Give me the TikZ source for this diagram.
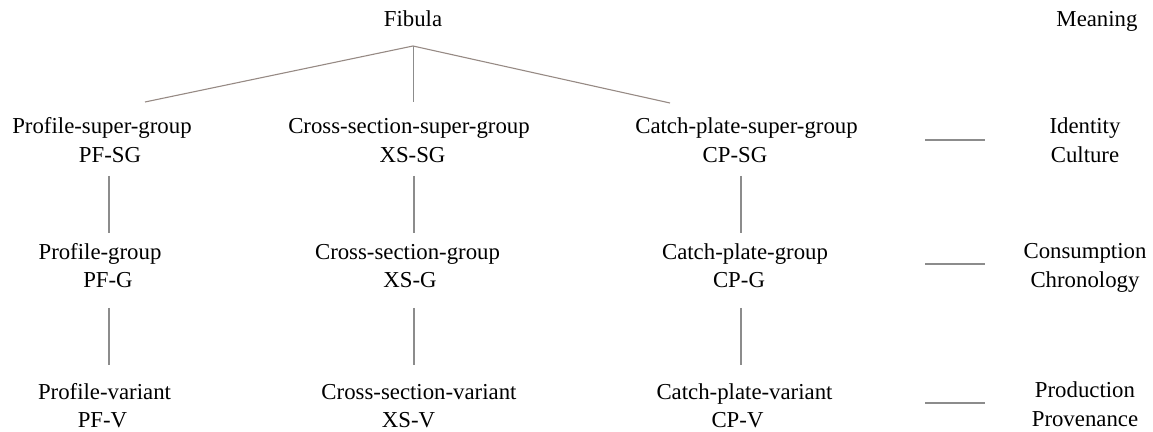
\documentclass[tikz,border=0pt]{standalone}
\usepackage{fontspec}
\newfontfamily\labelfont{Liberation Serif}
\begin{document}
\begin{tikzpicture}[x=0.5pt,y=-0.5pt,
  lbl/.style={anchor=base,inner sep=0pt,font=\labelfont\fontsize{11.4}{14}\selectfont},
  tree/.style={draw={rgb,255:red,150;green,138;blue,132},line width=0.55pt},
  link/.style={draw={rgb,255:red,140;green,140;blue,140},line width=0.55pt}]
\useasboundingbox (0,0) rectangle (1153,432);

% headings
\node[lbl] (fib) at (413,27) {Fibula};
\node[lbl] (mean) at (1097,27) {Meaning};

% column 1: profile
\node[lbl] (pfsgn) at (102,134) {Profile-super-group};
\node[lbl] (pfsgc) at (110,163) {PF-SG};
\node[lbl] (pfgn)  at (100,260) {Profile-group};
\node[lbl] (pfgc)  at (108,288) {PF-G};
\node[lbl] (pfvn)  at (104.5,400) {Profile-variant};
\node[lbl] (pfvc)  at (102.5,428) {PF-V};

% column 2: cross-section
\node[lbl] (xssgn) at (409,134) {Cross-section-super-group};
\node[lbl] (xssgc) at (412.5,163) {XS-SG};
\node[lbl] (xsgn)  at (407.5,260) {Cross-section-group};
\node[lbl] (xsgc)  at (410,288) {XS-G};
\node[lbl] (xsvn)  at (419,400) {Cross-section-variant};
\node[lbl] (xsvc)  at (408.5,428) {XS-V};

% column 3: catch-plate
\node[lbl] (cpsgn) at (746.5,134) {Catch-plate-super-group};
\node[lbl] (cpsgc) at (735,163) {CP-SG};
\node[lbl] (cpgn)  at (745,260) {Catch-plate-group};
\node[lbl] (cpgc)  at (739,288) {CP-G};
\node[lbl] (cpvn)  at (744.5,400) {Catch-plate-variant};
\node[lbl] (cpvc)  at (737.5,428) {CP-V};

% meaning column
\node[lbl] (idn) at (1085,134) {Identity};
\node[lbl] (idc) at (1085,163) {Culture};
\node[lbl] (con) at (1085,259) {Consumption};
\node[lbl] (chr) at (1085,288) {Chronology};
\node[lbl] (prn) at (1085,398) {Production};
\node[lbl] (prv) at (1085,427) {Provenance};

% branching from the root
\coordinate (apex) at ([yshift=-9.5pt]fib.base);
\coordinate (b1) at (145,102);
\coordinate (b2) at (413.5,102);
\coordinate (b3) at (670,103);
\draw[tree] (b1) -- (apex) -- (b3);
\draw[link] (apex -| b2) -- (b2);

% vertical links within each column
\coordinate (c1) at (109,0);
\coordinate (c2) at (414,0);
\coordinate (c3) at (741,0);
\coordinate (s1) at ([yshift=-6.5pt]pfsgc.base);
\coordinate (e1) at ([yshift=13.5pt]pfgn.base);
\coordinate (s2) at ([yshift=-10pt]pfgc.base);
\coordinate (e2) at ([yshift=17.5pt]pfvn.base);
\foreach \c in {c1,c2,c3}{
  \draw[link] (s1 -| \c) -- (e1 -| \c);
  \draw[link] (s2 -| \c) -- (e2 -| \c);
}

% dashes leading to the meanings
\coordinate (lx1) at (925,0);
\coordinate (lx2) at (985,0);
\coordinate (m1) at ([yshift=-3pt]idn.base);
\coordinate (m2) at ([yshift=-2.5pt]con.base);
\coordinate (m3) at ([yshift=-2.5pt]prn.base);
\foreach \m in {m1,m2,m3}{
  \draw[link] (\m -| lx1) -- (\m -| lx2);
}
\end{tikzpicture}
\end{document}
